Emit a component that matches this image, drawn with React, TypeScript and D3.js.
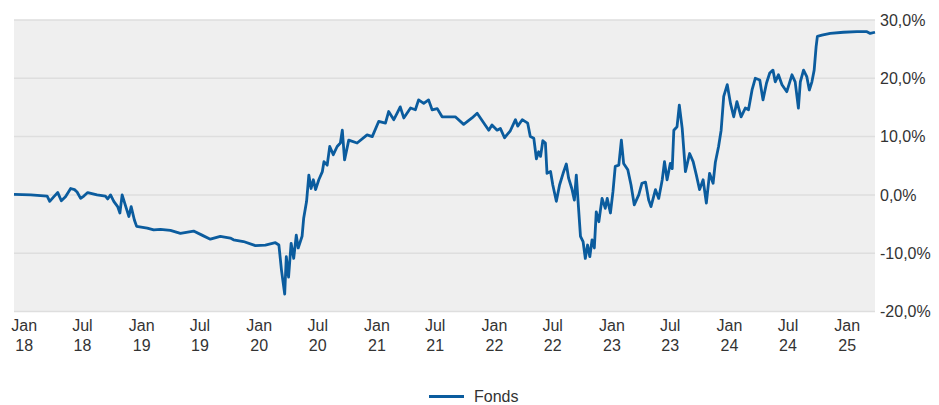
import { axisBottom, line, scaleLinear, scaleTime, select, timeFormat, timeParse } from "d3";
import React, { useEffect, useRef } from "react";

const dates = [
    "2017-12-02", "2018-01-23", "2018-03-15", "2018-03-23", "2018-04-05", "2018-04-17", "2018-04-28", "2018-05-11",
    "2018-05-27", "2018-06-08", "2018-06-16", "2018-06-27", "2018-07-07", "2018-07-19", "2018-08-17", "2018-09-12",
    "2018-09-19", "2018-09-28", "2018-10-08", "2018-10-20", "2018-10-27", "2018-11-03", "2018-11-16", "2018-11-24",
    "2018-12-01", "2018-12-11", "2018-12-18", "2019-01-20", "2019-02-09", "2019-03-02", "2019-04-02", "2019-05-03",
    "2019-06-13", "2019-07-09", "2019-08-04", "2019-09-04", "2019-10-05", "2019-10-15", "2019-11-15", "2019-12-22",
    "2020-01-22", "2020-02-22", "2020-03-04", "2020-03-12", "2020-03-22", "2020-03-27", "2020-04-03", "2020-04-11",
    "2020-04-19", "2020-04-27", "2020-05-03", "2020-05-15", "2020-05-20", "2020-05-29", "2020-06-05", "2020-06-12",
    "2020-06-19", "2020-06-26", "2020-07-06", "2020-07-17", "2020-07-22", "2020-08-01", "2020-08-09", "2020-08-20",
    "2020-09-01", "2020-09-11", "2020-09-17", "2020-09-24", "2020-10-07", "2020-11-02", "2020-12-03", "2020-12-19",
    "2021-01-08", "2021-01-29", "2021-02-08", "2021-02-24", "2021-03-06", "2021-03-16", "2021-03-27", "2021-04-17",
    "2021-05-02", "2021-05-12", "2021-05-28", "2021-06-12", "2021-06-23", "2021-07-09", "2021-07-24", "2021-08-09",
    "2021-09-03", "2021-09-29", "2021-10-25", "2021-11-10", "2021-11-20", "2021-12-16", "2021-12-26", "2022-01-11",
    "2022-01-21", "2022-02-03", "2022-02-21", "2022-03-09", "2022-03-16", "2022-03-30", "2022-04-16", "2022-04-24",
    "2022-05-05", "2022-05-13", "2022-05-20", "2022-05-26", "2022-06-02", "2022-06-10", "2022-06-15", "2022-06-26",
    "2022-07-03", "2022-07-14", "2022-07-24", "2022-08-04", "2022-08-14", "2022-08-21", "2022-08-31", "2022-09-08",
    "2022-09-14", "2022-09-21", "2022-09-27", "2022-10-05", "2022-10-12", "2022-10-19", "2022-10-26", "2022-11-02",
    "2022-11-09", "2022-11-15", "2022-11-23", "2022-12-03", "2022-12-13", "2022-12-19", "2022-12-29", "2023-01-06",
    "2023-01-13", "2023-01-24", "2023-02-01", "2023-02-08", "2023-02-21", "2023-03-03", "2023-03-13", "2023-03-27",
    "2023-04-06", "2023-04-17", "2023-04-27", "2023-05-04", "2023-05-18", "2023-05-28", "2023-06-08", "2023-06-15",
    "2023-06-23", "2023-07-03", "2023-07-09", "2023-07-14", "2023-07-24", "2023-07-31", "2023-08-09", "2023-08-19",
    "2023-09-01", "2023-09-12", "2023-09-22", "2023-10-02", "2023-10-13", "2023-10-23", "2023-11-02", "2023-11-13",
    "2023-11-20", "2023-11-30", "2023-12-08", "2023-12-16", "2023-12-27", "2024-01-06", "2024-01-16", "2024-01-26",
    "2024-02-08", "2024-02-21", "2024-03-02", "2024-03-13", "2024-03-23", "2024-04-06", "2024-04-16", "2024-04-27",
    "2024-05-07", "2024-05-17", "2024-05-24", "2024-06-03", "2024-06-14", "2024-06-29", "2024-07-15", "2024-07-25",
    "2024-08-04", "2024-08-10", "2024-08-20", "2024-08-30", "2024-09-07", "2024-09-15", "2024-09-22", "2024-09-28",
    "2024-10-02", "2024-10-16", "2024-11-11", "2024-12-22", "2025-02-02", "2025-03-05", "2025-03-15", "2025-03-30",
];

const fonds = [
    0.1, 0, -0.2, -1.1, -0.3, 0.4, -1.0, -0.3,
    1.1, 0.9, 0.5, -0.6, -0.2, 0.4, 0, -0.2,
    -0.7, 0, -1.1, -2.0, -3.1, 0, -2.3, -3.7,
    -2.0, -4.3, -5.4, -5.7, -6.0, -5.9, -6.1, -6.6,
    -6.2, -6.9, -7.6, -7.1, -7.4, -7.7, -8.0, -8.7,
    -8.6, -8.2, -8.6, -12.9, -17.0, -10.6, -14.1, -8.3,
    -10.9, -6.9, -9.1, -7.1, -4.0, -1.1, 3.4, 1.1,
    2.6, 0.9, 2.6, 4.0, 5.7, 5.1, 8.3, 6.9,
    8.3, 8.9, 11.1, 6.0, 9.4, 8.9, 10.3, 10.0,
    12.6, 12.3, 14.3, 12.9, 14.0, 15.1, 13.2, 14.9,
    14.6, 16.3, 15.7, 16.3, 14.6, 14.8, 13.4, 13.4,
    13.4, 12.1, 13.2, 14.0, 13.2, 11.1, 12.0, 11.1,
    11.4, 9.8, 11.0, 12.9, 11.8, 12.9, 12.3, 10.0,
    9.7, 6.2, 7.4, 6.6, 9.3, 8.9, 3.7, 4.0,
    1.7, -1.1, 1.7, 3.7, 5.3, 2.9, 1.1, -0.9,
    3.4, -2.3, -7.1, -8.0, -10.9, -8.6, -10.6, -7.7,
    -9.1, -2.9, -4.6, -0.6, -2.3, -0.6, -3.1, 0.6,
    4.9, 5.1, 9.4, 5.4, 4.3, 1.7, -1.7, 0,
    2.0, 2.2, -0.9, -2.0, 0.9, -0.6, 2.6, 5.7,
    2.6, 5.4, 4.5, 11.1, 11.7, 15.4, 11.4, 4.0,
    7.1, 5.7, 3.4, 0.9, 2.6, -1.4, 3.7, 2.0,
    5.6, 8.3, 11.1, 16.9, 18.9, 15.7, 13.4, 16.0,
    13.4, 14.9, 14.6, 18.0, 20.0, 19.7, 16.3, 19.2,
    20.9, 21.4, 19.4, 20.6, 18.9, 17.7, 20.6, 19.4,
    14.9, 19.4, 21.4, 20.3, 18.0, 19.4, 21.4, 25.4,
    27.2, 27.4, 27.7, 27.9, 28.0, 28.0, 27.7, 27.9,
];

const yTicks = [-20, -10, 0, 10, 20, 30];
const seriesName = "Fonds";

const parse = timeParse("%Y-%m-%d");
const monthFmt = timeFormat("%b");
const yearFmt = timeFormat("%y");

const App: React.FC = () => {
    const svgRef = useRef<SVGSVGElement>(null);

    useEffect(() => {
        const width = 939,
            height = 405;
        const font = "'Liberation Sans', Arial, sans-serif";
        const textColor = "#333333";
        const blue = "#0b5c9e";

        const data = dates.map((d, i) => ({ date: parse(d)!, value: fonds[i] }));

        const x = scaleTime()
            .domain([data[0].date, data[data.length - 1].date])
            .range([14, 875]);
        const y = scaleLinear().domain([-20, 30]).range([311.5, 20]);

        const svg = select(svgRef.current).attr("width", width).attr("height", height);
        svg.selectAll("*").remove();

        // plot background
        svg.append("rect")
            .attr("x", x.range()[0])
            .attr("y", y(30))
            .attr("width", x.range()[1] - x.range()[0])
            .attr("height", y(-20) - y(30))
            .attr("fill", "#efefef");

        // horizontal grid
        svg.append("g")
            .selectAll("line")
            .data(yTicks)
            .enter()
            .append("line")
            .attr("x1", x.range()[0])
            .attr("x2", x.range()[1])
            .attr("y1", d => y(d))
            .attr("y2", d => y(d))
            .attr("stroke", "#dedede")
            .attr("stroke-width", 1.5);

        // y labels on the right
        svg.append("g")
            .selectAll("text")
            .data(yTicks)
            .enter()
            .append("text")
            .attr("x", 880)
            .attr("y", d => y(d))
            .attr("dy", "0.36em")
            .attr("font-family", font)
            .attr("font-size", 16)
            .attr("fill", textColor)
            .text(d => d.toFixed(1).replace(".", ",") + "%");

        // x axis: half-year ticks, two line labels
        const xTicks: Date[] = [];
        for (let yr = 2018; yr <= 2025; yr++) {
            xTicks.push(new Date(yr, 0, 1));
            if (yr < 2025) xTicks.push(new Date(yr, 6, 1));
        }
        const xAxis = svg.append("g")
            .attr("transform", "translate(0," + y(-20) + ")")
            .call(axisBottom(x).tickValues(xTicks).tickSize(0).tickFormat(() => ""))
            .call(g => g.select(".domain").remove());
        xAxis.selectAll<SVGGElement, Date>(".tick").each(function (d) {
            const t = select(this).select("text").text(null)
                .attr("y", 0)
                .attr("dy", 0)
                .attr("font-family", font)
                .attr("font-size", 16)
                .attr("fill", textColor);
            t.append("tspan").attr("x", 0).attr("y", 19.5).text(monthFmt(d));
            t.append("tspan").attr("x", 0).attr("y", 39.5).text(yearFmt(d));
        });

        const myLine = line<{ date: Date; value: number }>()
            .x(d => x(d.date))
            .y(d => y(d.value));

        svg.append("path")
            .datum(data)
            .attr("fill", "none")
            .attr("stroke", blue)
            .attr("stroke-width", 2.8)
            .attr("stroke-linejoin", "round")
            .attr("d", myLine);

        // legend
        const legend = svg.append("g").attr("transform", "translate(429,396.5)");
        legend.append("line")
            .attr("x1", 0)
            .attr("x2", 35)
            .attr("stroke", blue)
            .attr("stroke-width", 3);
        legend.append("text")
            .attr("x", 45)
            .attr("y", 5)
            .attr("font-family", font)
            .attr("font-size", 16)
            .attr("fill", textColor)
            .text(seriesName);
    }, []);

    return (
        <div style={{ position: "absolute", left: 0, top: 0 }}>
            <svg ref={svgRef} style={{ display: "block" }}></svg>
        </div>
    );
};

export default App;
